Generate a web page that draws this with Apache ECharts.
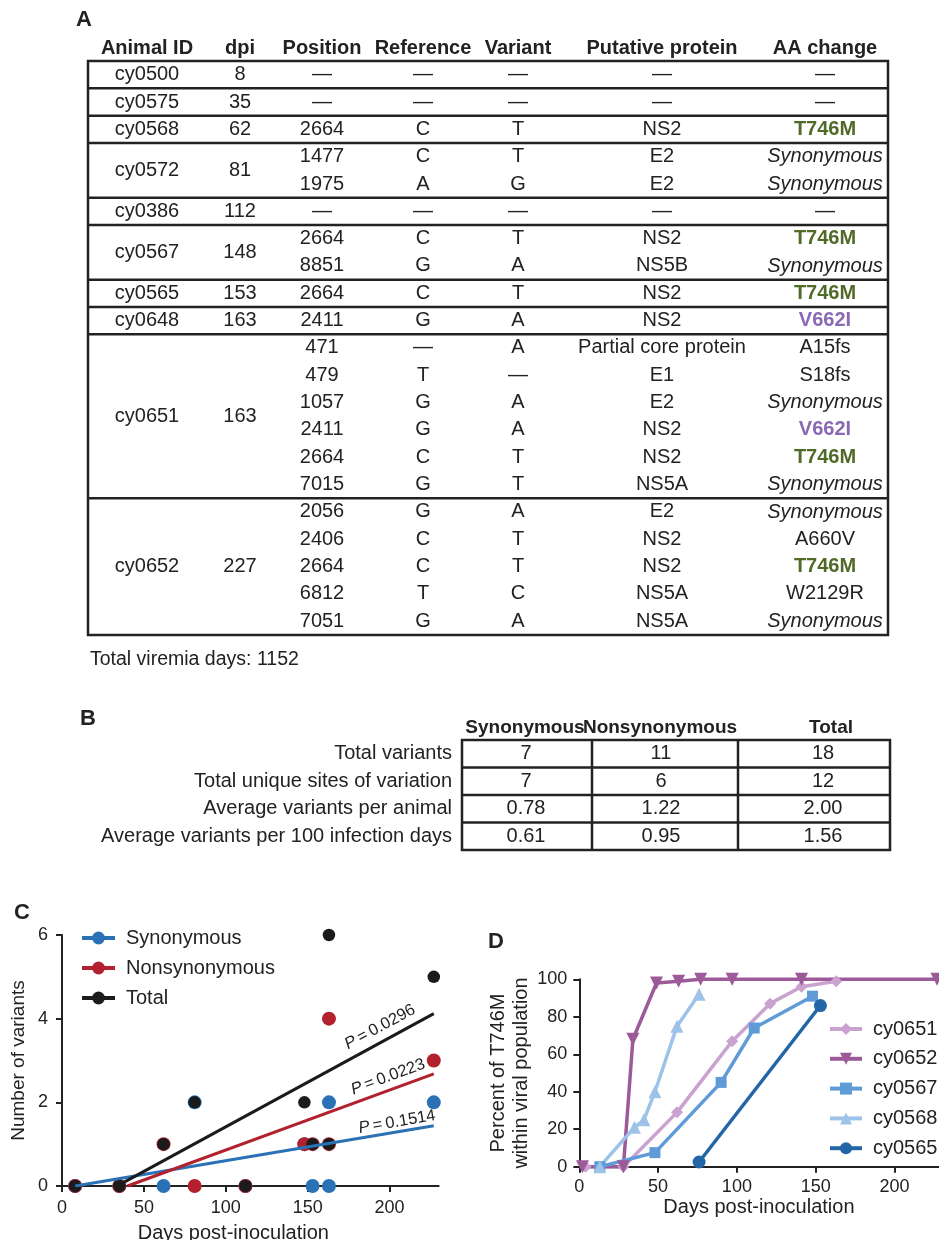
<!DOCTYPE html>
<html>
<head>
<meta charset="utf-8">
<script src="https://cdn.jsdelivr.net/npm/echarts@6/dist/echarts.min.js"></script>
<style>
html, body { margin: 0; padding: 0; background: #fff; }
#chart { width: 939px; height: 1240px; }
</style>
</head>
<body>
<div id="chart"></div>
<script>
// ---- Panel A: variant table ----
const headersA = ['Animal ID', 'dpi', 'Position', 'Reference', 'Variant', 'Putative protein', 'AA change'];
const animalIds = ['cy0500', 'cy0575', 'cy0568', 'cy0572', 'cy0386', 'cy0567', 'cy0565', 'cy0648', 'cy0651', 'cy0652'];
const dpi = [8, 35, 62, 81, 112, 148, 153, 163, 163, 227];
const positions = [['—'], ['—'], ['2664'], ['1477', '1975'], ['—'], ['2664', '8851'], ['2664'], ['2411'],
  ['471', '479', '1057', '2411', '2664', '7015'], ['2056', '2406', '2664', '6812', '7051']];
const refBases = [['—'], ['—'], ['C'], ['C', 'A'], ['—'], ['C', 'G'], ['C'], ['G'],
  ['—', 'T', 'G', 'G', 'C', 'G'], ['G', 'C', 'C', 'T', 'G']];
const varBases = [['—'], ['—'], ['T'], ['T', 'G'], ['—'], ['T', 'A'], ['T'], ['A'],
  ['A', '—', 'A', 'A', 'T', 'T'], ['A', 'T', 'T', 'C', 'A']];
const proteins = [['—'], ['—'], ['NS2'], ['E2', 'E2'], ['—'], ['NS2', 'NS5B'], ['NS2'], ['NS2'],
  ['Partial core protein', 'E1', 'E2', 'NS2', 'NS2', 'NS5A'], ['E2', 'NS2', 'NS2', 'NS5A', 'NS5A']];
const aaChanges = [['—'], ['—'], ['T746M'], ['Synonymous', 'Synonymous'], ['—'], ['T746M', 'Synonymous'], ['T746M'], ['V662I'],
  ['A15fs', 'S18fs', 'Synonymous', 'V662I', 'T746M', 'Synonymous'], ['Synonymous', 'A660V', 'T746M', 'W2129R', 'Synonymous']];
const viremiaNote = 'Total viremia days: 1152';

// ---- Panel B: summary table ----
const headersB = ['Synonymous', 'Nonsynonymous', 'Total'];
const rowsB = ['Total variants', 'Total unique sites of variation', 'Average variants per animal', 'Average variants per 100 infection days'];
const synStats = ['7', '7', '0.78', '0.61'];
const nonsynStats = ['11', '6', '1.22', '0.95'];
const totalStats = ['18', '12', '2.00', '1.56'];

// ---- Panel C: variants per animal vs dpi ----
const synCounts = [0, 0, 0, 2, 0, 1, 0, 0, 2, 2];
const nonsynCounts = [0, 0, 1, 0, 0, 1, 1, 1, 4, 3];
const totalCounts = [0, 0, 1, 2, 0, 2, 1, 1, 6, 5];
const synFit = [[8, 0], [227, 1.44]];
const nonsynFit = [[40, 0], [227, 2.68]];
const totalFit = [[36, 0.05], [227, 4.12]];
const pValues = ['0.1514', '0.0223', '0.0296'];

// ---- Panel D: T746M frequency over time ----
const cy0651 = [[4, 0], [28, 0], [62, 29], [97, 67], [121, 87], [141, 96], [163, 99]];
const cy0652 = [[2, 0], [28, 0], [34, 68], [49, 98], [63, 99], [77, 100], [97, 100], [141, 100], [227, 100]];
const cy0567 = [[13, 0], [48, 7.5], [90, 45], [111, 74], [148, 91]];
const cy0568 = [[13, 0], [35, 21], [41, 25], [48, 40], [62, 75], [76, 92]];
const cy0565 = [[76, 2.5], [153, 86]];

const FF = '"Liberation Sans", Arial, Helvetica, sans-serif';
const INK = '#222';
const C_SYN = '#2a72b5', C_NON = '#b3202e', C_TOT = '#1b1b1b';
const GREEN = '#4f6b27', PURPLE = '#8a68b3';

function txt(x, y, text, o) {
  o = o || {};
  return {
    type: 'text', x: x, y: y, rotation: o.rotation || 0, silent: true,
    style: {
      text: text,
      fill: o.color || INK,
      font: (o.italic ? 'italic ' : '') + (o.weight || 'normal') + ' ' + (o.size || 20) + 'px ' + FF,
      textAlign: o.align || 'center',
      textVerticalAlign: 'middle',
      rich: o.rich
    }
  };
}
function hline(x1, x2, y, w) {
  return { type: 'line', silent: true, shape: { x1: x1, y1: y, x2: x2, y2: y }, style: { stroke: INK, lineWidth: w || 2.5 } };
}
function vline(x, y1, y2, w) {
  return { type: 'line', silent: true, shape: { x1: x, y1: y1, x2: x, y2: y2 }, style: { stroke: INK, lineWidth: w || 2.5 } };
}

const els = [];
// panel letters
els.push(txt(84, 20, 'A', { weight: 'bold', size: 22 }));
els.push(txt(88, 719, 'B', { weight: 'bold', size: 22 }));
els.push(txt(22, 913, 'C', { weight: 'bold', size: 22 }));
els.push(txt(496, 942, 'D', { weight: 'bold', size: 22 }));

// table A
const aLeft = 88, aRight = 888, aTop = 61, rowH = 27.33;
const colX = [147, 240, 322, 423, 518, 662, 825];
headersA.forEach((h, i) => els.push(txt(colX[i], 48, h, { weight: 'bold' })));
let k = 0;
animalIds.forEach((id, i) => {
  const n = positions[i].length;
  const top = aTop + k * rowH;
  els.push(txt(colX[0], top + n * rowH / 2, id));
  els.push(txt(colX[1], top + n * rowH / 2, String(dpi[i])));
  for (let j = 0; j < n; j++) {
    const y = top + (j + 0.5) * rowH;
    els.push(txt(colX[2], y, positions[i][j]));
    els.push(txt(colX[3], y, refBases[i][j]));
    els.push(txt(colX[4], y, varBases[i][j]));
    els.push(txt(colX[5], y, proteins[i][j]));
    const aa = aaChanges[i][j];
    if (aa === 'Synonymous') els.push(txt(colX[6], y, aa, { italic: true }));
    else if (aa === 'T746M') els.push(txt(colX[6], y, aa, { weight: 'bold', color: GREEN }));
    else if (aa === 'V662I') els.push(txt(colX[6], y, aa, { weight: 'bold', color: PURPLE }));
    else els.push(txt(colX[6], y, aa));
  }
  k += n;
  if (i < animalIds.length - 1) els.push(hline(aLeft, aRight, aTop + k * rowH));
});
els.push({ type: 'rect', silent: true, shape: { x: aLeft, y: aTop, width: aRight - aLeft, height: k * rowH },
  style: { fill: 'none', stroke: INK, lineWidth: 2.5 } });
els.push(txt(90, 660, viremiaNote, { align: 'left', size: 19.5 }));

// table B
const bLeft = 462, bRight = 890, bTop = 740, bRow = 27.5;
const bCols = [462, 592, 738, 890];
const bValX = [526, 661, 823];
const bHeadX = [525, 660, 831];
headersB.forEach((h, i) => els.push(txt(bHeadX[i], 728, h, { weight: 'bold', size: 19 })));
rowsB.forEach((r, i) => {
  const y = bTop + (i + 0.5) * bRow;
  els.push(txt(452, y, r, { align: 'right', size: 20 }));
  els.push(txt(bValX[0], y, synStats[i], { size: 20 }));
  els.push(txt(bValX[1], y, nonsynStats[i], { size: 20 }));
  els.push(txt(bValX[2], y, totalStats[i], { size: 20 }));
  if (i > 0) els.push(hline(bLeft, bRight, bTop + i * bRow));
});
els.push(vline(bCols[1], bTop, bTop + 4 * bRow));
els.push(vline(bCols[2], bTop, bTop + 4 * bRow));
els.push({ type: 'rect', silent: true, shape: { x: bLeft, y: bTop, width: bRight - bLeft, height: 4 * bRow },
  style: { fill: 'none', stroke: INK, lineWidth: 2.5 } });

// P value labels along fit lines (panel C)
const pRich = { i: { fontStyle: 'italic', fontSize: 16.5, fontFamily: FF, fill: INK } };
els.push(txt(397, 1122, '{i|P}\u2009=\u2009' + pValues[0], { size: 16.5, rotation: 9.5 * Math.PI / 180, rich: pRich }));
els.push(txt(388, 1077, '{i|P}\u2009=\u2009' + pValues[1], { size: 16.5, rotation: 20.3 * Math.PI / 180, rich: pRich }));
els.push(txt(380, 1027, '{i|P}\u2009=\u2009' + pValues[2], { size: 16.5, rotation: 28.3 * Math.PI / 180, rich: pRich }));

const toPts = (counts) => counts.map((v, i) => [dpi[i], v]);

function axisBase(extra) {
  return Object.assign({
    type: 'value',
    axisLine: { show: true, onZero: false, lineStyle: { color: INK, width: 2 } },
    axisTick: { show: true, inside: false, length: 6, lineStyle: { color: INK, width: 2 } },
    splitLine: { show: false },
    axisLabel: { color: INK, fontSize: 18, fontFamily: FF },
    nameTextStyle: { color: INK, fontSize: 20, fontFamily: FF }
  }, extra);
}
const dayTicks = [0, 50, 100, 150, 200];

const option = {
  animation: false,
  backgroundColor: '#fff',
  textStyle: { fontFamily: FF },
  graphic: { elements: els },
  grid: [
    { left: 62, top: 935, width: 376.7, height: 251, containLabel: false, outerBoundsMode: 'none' },
    { left: 579.3, top: 979.3, width: 359.3, height: 187.4, containLabel: false, outerBoundsMode: 'none' }
  ],
  xAxis: [
    axisBase({ gridIndex: 0, min: 0, max: 230, interval: 50,
      axisTick: { show: true, length: 6, lineStyle: { color: INK, width: 2 }, customValues: dayTicks },
      axisLabel: { color: INK, fontSize: 18, fontFamily: FF, margin: 13, customValues: dayTicks },
      name: 'Days post-inoculation', nameLocation: 'middle', nameGap: 37,
      nameTextStyle: { color: INK, fontSize: 20, fontFamily: FF, padding: [0, 34, 0, 0] } }),
    axisBase({ gridIndex: 1, min: 0, max: 228, interval: 50,
      axisTick: { show: true, length: 6, lineStyle: { color: INK, width: 2 }, customValues: dayTicks },
      axisLabel: { color: INK, fontSize: 18, fontFamily: FF, margin: 11, customValues: dayTicks },
      name: 'Days post-inoculation', nameLocation: 'middle', nameGap: 31 })
  ],
  yAxis: [
    axisBase({ gridIndex: 0, min: 0, max: 6, interval: 2,
      axisLabel: { color: INK, fontSize: 18, fontFamily: FF, margin: 14 },
      name: 'Number of variants', nameLocation: 'middle', nameGap: 34,
      nameTextStyle: { color: INK, fontSize: 19, fontFamily: FF } }),
    axisBase({ gridIndex: 1, min: 0, max: 100, interval: 20,
      axisLabel: { color: INK, fontSize: 18, fontFamily: FF, margin: 12 },
      name: 'Percent of T746M\nwithin viral population', nameLocation: 'middle', nameGap: 44,
      nameTextStyle: { color: INK, fontSize: 20, fontFamily: FF, lineHeight: 23 } })
  ],
  legend: [
    { orient: 'vertical', left: 80, top: 928, padding: 0, itemWidth: 33, itemHeight: 16, itemGap: 10, selectedMode: false,
      data: ['Synonymous', 'Nonsynonymous', 'Total'], lineStyle: { width: 4 },
      textStyle: { color: INK, fontSize: 20, fontFamily: FF, padding: [0, 0, 0, 6] } },
    { orient: 'vertical', left: 828, top: 1019, padding: 0, itemWidth: 32, itemHeight: 15, itemGap: 9.8, selectedMode: false,
      data: ['cy0651', 'cy0652', 'cy0567', 'cy0568', 'cy0565'], lineStyle: { width: 4 },
      textStyle: { color: INK, fontSize: 20, fontFamily: FF, padding: [0, 0, 0, 6] } }
  ],
  series: [
    // regression lines (panel C)
    { name: 'Synonymous', type: 'line', xAxisIndex: 0, yAxisIndex: 0, data: synFit, symbol: 'none', silent: true,
      lineStyle: { width: 3, color: C_SYN }, itemStyle: { color: C_SYN } },
    { name: 'Nonsynonymous', type: 'line', xAxisIndex: 0, yAxisIndex: 0, data: nonsynFit, symbol: 'none', silent: true,
      lineStyle: { width: 3, color: C_NON }, itemStyle: { color: C_NON } },
    { name: 'Total', type: 'line', xAxisIndex: 0, yAxisIndex: 0, data: totalFit, symbol: 'none', silent: true,
      lineStyle: { width: 3, color: C_TOT }, itemStyle: { color: C_TOT } },
    // points (panel C)
    { name: 'Synonymous', type: 'scatter', xAxisIndex: 0, yAxisIndex: 0, data: toPts(synCounts), symbolSize: 14,
      clip: false, itemStyle: { color: C_SYN, opacity: 1 } },
    { name: 'Nonsynonymous', type: 'scatter', xAxisIndex: 0, yAxisIndex: 0, data: toPts(nonsynCounts), symbolSize: 14,
      clip: false, itemStyle: { color: C_NON, opacity: 1 } },
    { name: 'Total', type: 'scatter', xAxisIndex: 0, yAxisIndex: 0, data: toPts(totalCounts), symbolSize: 12.5,
      clip: false, itemStyle: { color: C_TOT, opacity: 1 } },
    // panel D
    { name: 'cy0651', type: 'line', xAxisIndex: 1, yAxisIndex: 1, data: cy0651, symbol: 'diamond', symbolSize: 12,
      clip: false, lineStyle: { width: 3.5, color: '#c9a2cf' }, itemStyle: { color: '#c9a2cf' } },
    { name: 'cy0652', type: 'line', xAxisIndex: 1, yAxisIndex: 1, data: cy0652, symbol: 'triangle', symbolRotate: 180, symbolSize: 13,
      clip: false, lineStyle: { width: 3.5, color: '#9c5a99' }, itemStyle: { color: '#9c5a99' } },
    { name: 'cy0567', type: 'line', xAxisIndex: 1, yAxisIndex: 1, data: cy0567, symbol: 'rect', symbolSize: 11,
      clip: false, lineStyle: { width: 3.5, color: '#5f9bd6' }, itemStyle: { color: '#5f9bd6' } },
    { name: 'cy0568', type: 'line', xAxisIndex: 1, yAxisIndex: 1, data: cy0568, symbol: 'triangle', symbolSize: 13,
      clip: false, lineStyle: { width: 3.5, color: '#9dc3e9' }, itemStyle: { color: '#9dc3e9' } },
    { name: 'cy0565', type: 'line', xAxisIndex: 1, yAxisIndex: 1, data: cy0565, symbol: 'circle', symbolSize: 13,
      clip: false, lineStyle: { width: 3.5, color: '#2266a7' }, itemStyle: { color: '#2266a7' } }
  ]
};

const chart = echarts.init(document.getElementById('chart'));
chart.setOption(option);
</script>
</body>
</html>
